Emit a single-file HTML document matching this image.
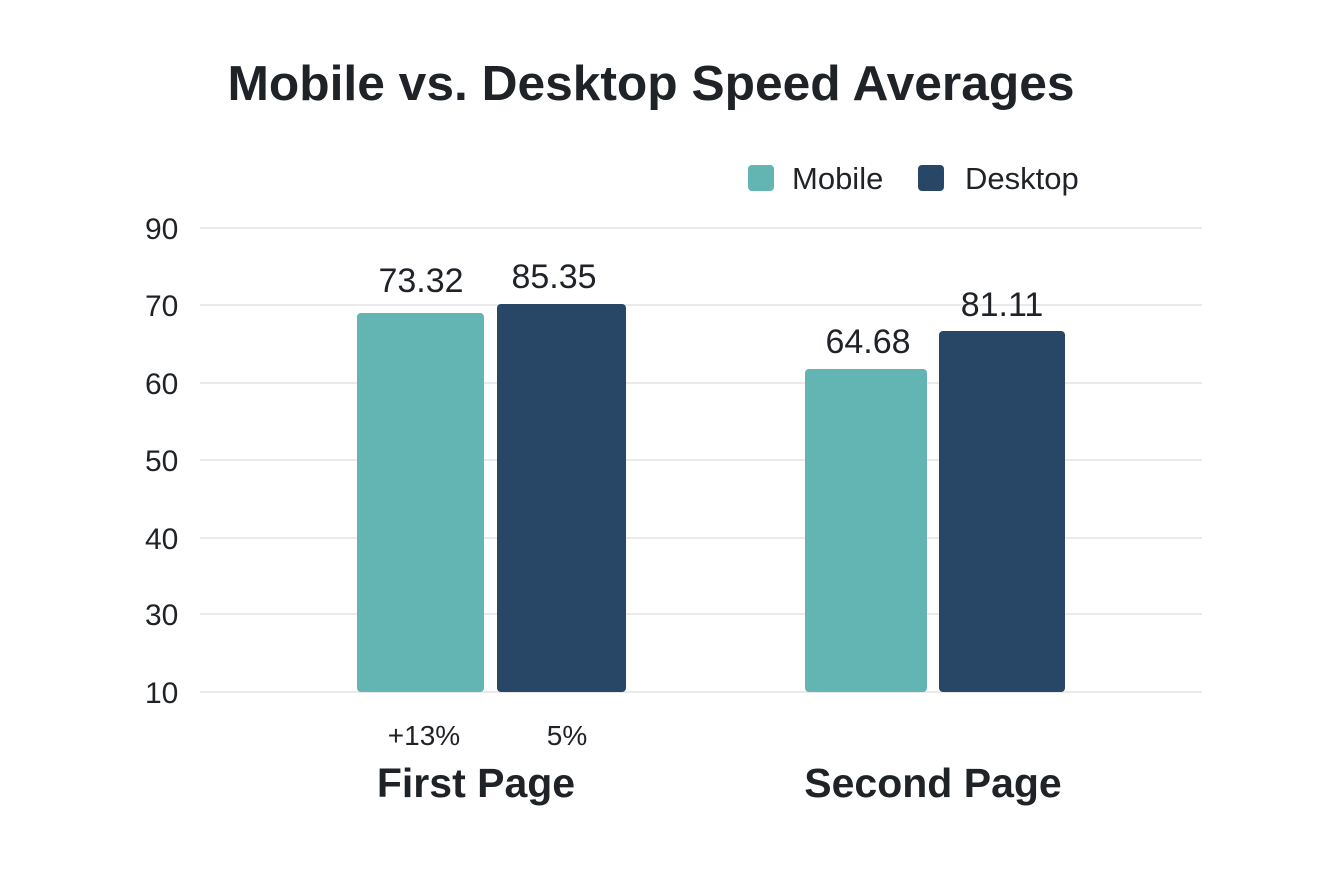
<!DOCTYPE html>
<html><head><style>
body{margin:0;background:#fff;}
svg text{font-family:"Liberation Sans",sans-serif;fill:#1f2328;}
</style></head><body>
<svg width="1328" height="880" xmlns="http://www.w3.org/2000/svg">
<rect width="1328" height="880" fill="#fff"/>
<text x="651" y="100" text-anchor="middle" font-size="49" font-weight="bold" textLength="847" lengthAdjust="spacingAndGlyphs">Mobile vs. Desktop Speed Averages</text>
<rect x="748" y="165" width="26" height="26" rx="4" fill="#63b5b3"/>
<text x="792" y="189" font-size="31">Mobile</text>
<rect x="918" y="165" width="26" height="26" rx="4" fill="#284766"/>
<text x="965" y="189" font-size="31">Desktop</text>
<g stroke="#e4e4e4" stroke-width="1.5">
<line x1="200" x2="1202" y1="228" y2="228"/>
<line x1="200" x2="1202" y1="305" y2="305"/>
<line x1="200" x2="1202" y1="383" y2="383"/>
<line x1="200" x2="1202" y1="460" y2="460"/>
<line x1="200" x2="1202" y1="538" y2="538"/>
<line x1="200" x2="1202" y1="614" y2="614"/>
<line x1="200" x2="1202" y1="692" y2="692"/>
</g>
<g font-size="30">
<text x="145" y="239">90</text>
<text x="145" y="316">70</text>
<text x="145" y="394">60</text>
<text x="145" y="471">50</text>
<text x="145" y="549">40</text>
<text x="145" y="625">30</text>
<text x="145" y="703">10</text>
</g>
<rect x="357" y="313" width="127" height="379" rx="4" fill="#63b5b3"/>
<rect x="497" y="304" width="129" height="388" rx="4" fill="#284766"/>
<rect x="805" y="369" width="122" height="323" rx="4" fill="#63b5b3"/>
<rect x="939" y="331" width="126" height="361" rx="4" fill="#284766"/>
<g font-size="34" text-anchor="middle">
<text x="421" y="292">73.32</text>
<text x="554" y="288">85.35</text>
<text x="868" y="353">64.68</text>
<text x="1002" y="316">81.11</text>
</g>
<text x="424" y="745" font-size="28" text-anchor="middle">+13%</text>
<text x="567" y="745" font-size="28" text-anchor="middle">5%</text>
<text x="476" y="797" font-size="41" font-weight="bold" text-anchor="middle">First Page</text>
<text x="933" y="797" font-size="41" font-weight="bold" text-anchor="middle">Second Page</text>
</svg>
</body></html>
